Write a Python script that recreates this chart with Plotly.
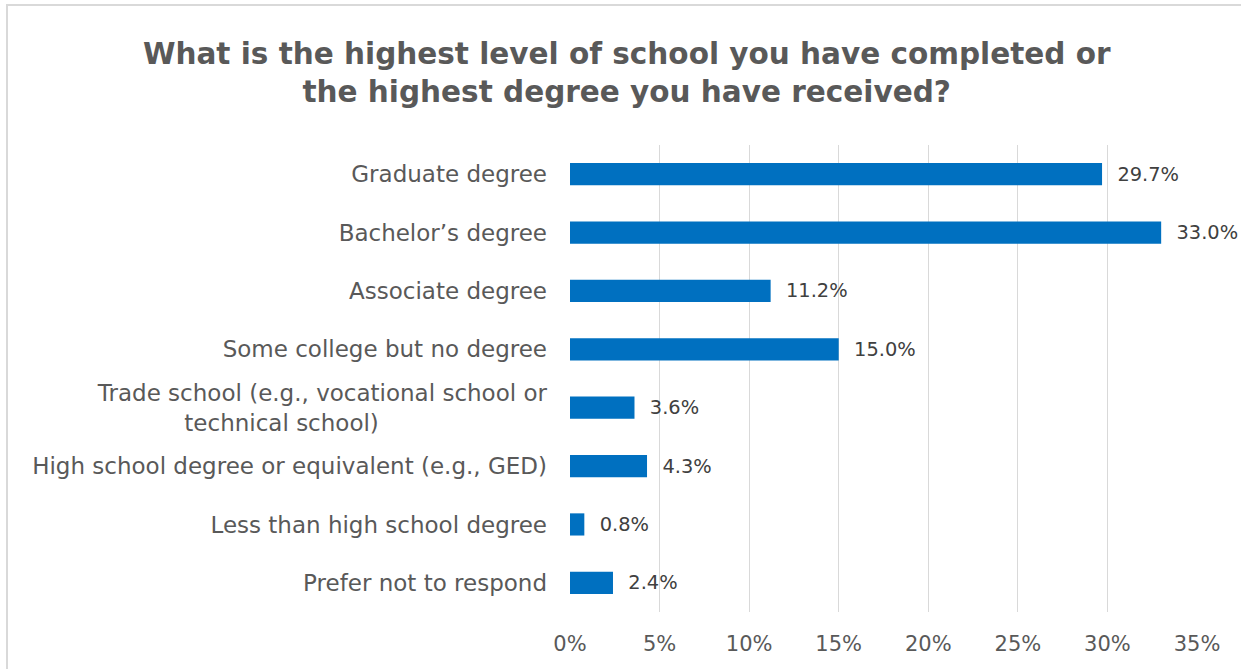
import plotly.graph_objects as go

categories = [
    "Graduate degree",
    "Bachelor\u2019s degree",
    "Associate degree",
    "Some college but no degree",
    "Trade school (e.g., vocational school or<br>technical school)" + "\u00a0" * 23,
    "High school degree or equivalent (e.g., GED)",
    "Less than high school degree",
    "Prefer not to respond",
]
values = [29.7, 33.0, 11.2, 15.0, 3.6, 4.3, 0.8, 2.4]
tick_vals = [0, 5, 10, 15, 20, 25, 30, 35]
tick_text = ["0%", "5%", "10%", "15%", "20%", "25%", "30%", "35%"]

FONT = "DejaVu Sans"
TXT = "#595959"
W, H = 1241, 669
L, R, T, B = 570, 44, 145, 57
pw, ph = W - L - R, H - T - B

fig = go.Figure(go.Bar(
    x=values,
    y=categories,
    orientation="h",
    marker=dict(color="#0070C0", line=dict(width=0)),
    text=["\u00a0\u00a0" + f"{v:.1f}%" for v in values],
    textposition="outside",
    cliponaxis=False,
    textfont=dict(family=FONT, size=21, color="#404040"),
))

fig.update_layout(
    width=W, height=H,
    paper_bgcolor="white", plot_bgcolor="white",
    margin=dict(l=L, r=R, t=T, b=B, autoexpand=False),
    bargap=0.62,
    showlegend=False,
    title=dict(
        text="<b>What is the highest level of school you have completed or<br>the highest degree you have received?</b>",
        x=0.505, xanchor="center", y=0.905, yanchor="middle",
        font=dict(family=FONT, size=29.5, color=TXT),
    ),
    shapes=[dict(type="rect", xref="paper", yref="paper",
                 x0=(7 - L) / pw, x1=(W + 20 - L) / pw,
                 y0=-(B + 20) / ph, y1=1 + (T - 5) / ph,
                 line=dict(color="#d9d9d9", width=2), layer="below")],
)
fig.update_xaxes(
    range=[0, 35], tickvals=tick_vals, ticktext=tick_text,
    showgrid=True, gridcolor="#d9d9d9", gridwidth=1.3,
    zeroline=False, showline=False, ticks="",
    ticklabelstandoff=17,
    tickfont=dict(family=FONT, size=21, color=TXT),
)
fig.update_yaxes(
    categoryorder="array", categoryarray=categories, autorange="reversed",
    showgrid=False, zeroline=False, showline=False, ticks="",
    ticklabelstandoff=22,
    tickfont=dict(family=FONT, size=23, color=TXT),
)

fig.write_html(
    "out.html",
    config={"displayModeBar": False},
    post_script="document.body.style.margin='0';document.body.style.overflow='hidden';",
)
